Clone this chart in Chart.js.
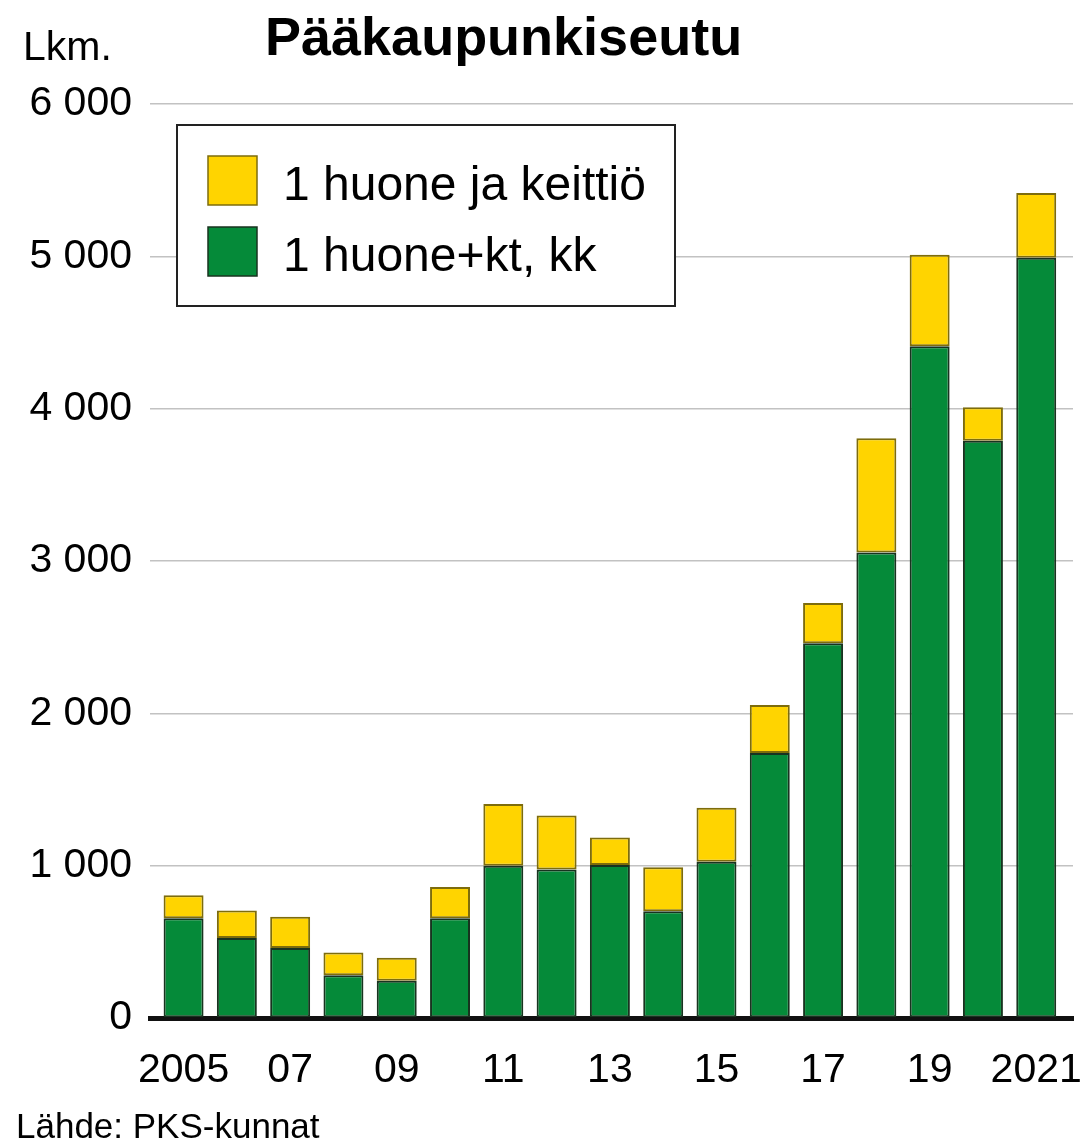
<!DOCTYPE html>
<html lang="fi">

<head>
    <meta charset="UTF-8">
    <title>Pääkaupunkiseutu</title>
    <script src="https://cdn.jsdelivr.net/npm/chart.js"></script>
    <style>
        body {
            margin: 0;
            background: #fff;
        }

        .chart-container {
            position: relative;
            width: 1083px;
            height: 1142px;
        }
    </style>
</head>

<body>
    <div class="chart-container">
        <canvas id="smallFlatsChart"></canvas>
    </div>

    <script>
        // years and values
        const years = [2005, 2006, 2007, 2008, 2009, 2010, 2011, 2012, 2013, 2014, 2015, 2016, 2017, 2018, 2019, 2020, 2021];
        const huoneKtKk = [655, 525, 460, 280, 245, 655, 1000, 975, 1005, 700, 1025, 1740, 2460, 3055, 4410, 3790, 4990];
        const huoneKeittio = [150, 180, 205, 150, 150, 205, 405, 355, 180, 290, 355, 315, 265, 750, 600, 220, 425];

        const tickYears = [2005, 2007, 2009, 2011, 2013, 2015, 2017, 2019, 2021];
        const tickLabels = ['2005', '07', '09', '11', '13', '15', '17', '19', '2021'];
        const yTicks = [0, 1000, 2000, 3000, 4000, 5000, 6000];

        const FONT = "'Liberation Sans', Arial, Helvetica, sans-serif";

        function spaced(v) {
            return String(v).replace(/\B(?=(\d{3})+(?!\d))/g, ' ');
        }

        // title, unit, source and the boxed legend
        const textPlugin = {
            id: 'texts',
            afterDraw(chart) {
                const ctx = chart.ctx;
                ctx.save();
                ctx.fillStyle = '#000';
                ctx.textBaseline = 'alphabetic';
                ctx.textAlign = 'left';

                ctx.font = 'bold 54px ' + FONT;
                ctx.fillText('Pääkaupunkiseutu', 265, 55);

                ctx.font = '41px ' + FONT;
                ctx.fillText('Lkm.', 23, 60);

                ctx.font = '35px ' + FONT;
                ctx.fillText('Lähde: PKS-kunnat', 16, 1138);

                // legend box
                ctx.fillStyle = '#fff';
                ctx.fillRect(177, 125, 498, 181);
                ctx.strokeStyle = '#222';
                ctx.lineWidth = 2;
                ctx.strokeRect(177, 125, 498, 181);

                const items = chart.data.datasets.slice().reverse();
                items.forEach((ds, i) => {
                    const y = 156 + i * 71;
                    ctx.fillStyle = ds.backgroundColor;
                    ctx.fillRect(208, y, 49, 49);
                    ctx.strokeStyle = ds.borderColor;
                    ctx.lineWidth = 1.5;
                    ctx.strokeRect(208, y, 49, 49);
                    ctx.fillStyle = '#000';
                    ctx.font = '48px ' + FONT;
                    ctx.fillText(ds.label, 283, y + 44);
                });
                ctx.restore();
            }
        };

        const ctx = document.getElementById('smallFlatsChart').getContext('2d');
        new Chart(ctx, {
            type: 'bar',
            data: {
                datasets: [{
                    label: '1 huone+kt, kk',
                    data: years.map((y, i) => ({ x: y, y: huoneKtKk[i] })),
                    backgroundColor: '#058a39',
                    borderColor: '#18331f',
                    borderWidth: 2,
                    borderSkipped: false
                }, {
                    label: '1 huone ja keittiö',
                    data: years.map((y, i) => ({ x: y, y: huoneKeittio[i] })),
                    backgroundColor: '#ffd400',
                    borderColor: '#7d6c0c',
                    borderWidth: 2,
                    borderSkipped: false
                }]
            },
            options: {
                responsive: true,
                maintainAspectRatio: false,
                animation: false,
                layout: {
                    padding: { top: 104, right: 10, left: 0, bottom: 0 }
                },
                datasets: {
                    bar: {
                        categoryPercentage: 1,
                        barPercentage: 0.75
                    }
                },
                plugins: {
                    legend: { display: false },
                    tooltip: { enabled: false }
                },
                scales: {
                    x: {
                        type: 'linear',
                        stacked: true,
                        offset: false,
                        min: 2004.37,
                        max: 2021.69,
                        z: 1,
                        grid: { display: false },
                        border: { display: true, color: '#111', width: 5 },
                        afterFit(scale) {
                            scale.height = 124;
                            // let the last label hang over the edge like in the print
                            scale.paddingLeft = 0;
                            scale.paddingRight = 0;
                        },
                        afterBuildTicks(scale) {
                            scale.ticks = tickYears.map(v => ({ value: v }));
                        },
                        ticks: {
                            autoSkip: false,
                            maxRotation: 0,
                            padding: 20,
                            color: '#000',
                            font: { family: FONT, size: 41 },
                            callback: (value) => tickLabels[tickYears.indexOf(value)]
                        }
                    },
                    y: {
                        stacked: true,
                        min: 0,
                        max: 6000,
                        border: { display: false },
                        afterFit(scale) { scale.width = 150; },
                        afterBuildTicks(scale) {
                            scale.ticks = yTicks.map(v => ({ value: v }));
                        },
                        grid: {
                            drawTicks: false,
                            lineWidth: 1.5,
                            color: (c) => c.tick && c.tick.value === 0 ? 'rgba(0,0,0,0)' : '#c2c2c2'
                        },
                        ticks: {
                            padding: 18,
                            color: '#000',
                            font: { family: FONT, size: 41 },
                            callback: (value) => spaced(value)
                        }
                    }
                }
            },
            plugins: [textPlugin]
        });
    </script>
</body>

</html>
